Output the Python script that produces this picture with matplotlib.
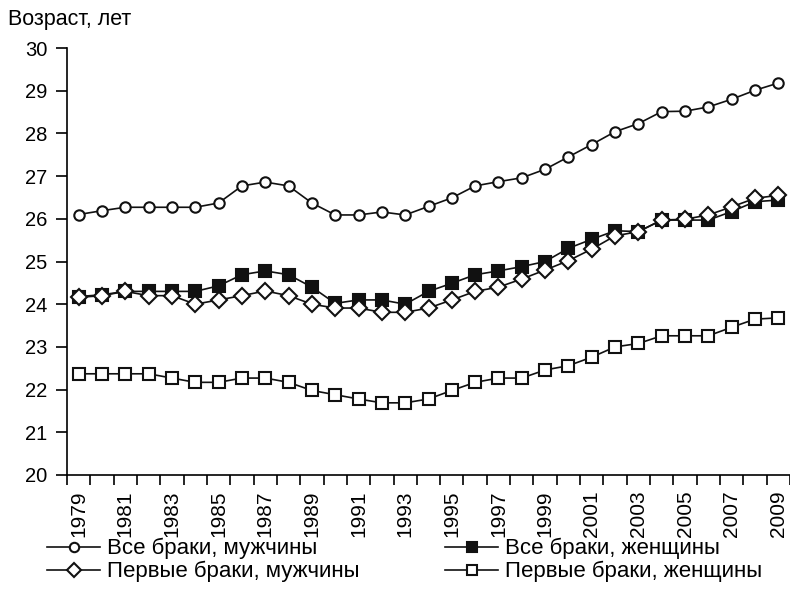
import matplotlib
matplotlib.use("Agg")
import matplotlib.pyplot as plt
from matplotlib import font_manager
import numpy as np

years = list(range(1979, 2010))
all_men = [26.10, 26.19, 26.27, 26.27, 26.27, 26.27, 26.37, 26.77, 26.86, 26.77,
           26.37, 26.09, 26.09, 26.16, 26.09, 26.29, 26.49, 26.77, 26.87, 26.96,
           27.16, 27.45, 27.74, 28.04, 28.23, 28.51, 28.52, 28.62, 28.80, 29.01, 29.18]
all_women = [24.18, 24.22, 24.30, 24.30, 24.30, 24.30, 24.43, 24.69, 24.78, 24.69,
             24.40, 24.02, 24.10, 24.10, 24.00, 24.30, 24.49, 24.69, 24.78, 24.88,
             25.00, 25.31, 25.52, 25.72, 25.70, 25.97, 25.97, 25.97, 26.17, 26.40, 26.44]
first_men = [24.16, 24.20, 24.30, 24.20, 24.20, 24.00, 24.10, 24.20, 24.31, 24.20,
             24.00, 23.91, 23.91, 23.81, 23.81, 23.91, 24.10, 24.30, 24.40, 24.59,
             24.80, 25.02, 25.29, 25.60, 25.70, 25.97, 25.99, 26.09, 26.28, 26.48, 26.55]
first_women = [22.37, 22.37, 22.37, 22.37, 22.27, 22.17, 22.17, 22.27, 22.27, 22.17,
               21.98, 21.88, 21.78, 21.69, 21.69, 21.78, 21.98, 22.17, 22.27, 22.27,
               22.46, 22.56, 22.76, 23.00, 23.08, 23.26, 23.26, 23.26, 23.46, 23.65, 23.68]
labels = ["Все браки, мужчины", "Все браки, женщины",
          "Первые браки, мужчины", "Первые браки, женщины"]
ylabel = "Возраст, лет"

names = {f.name for f in font_manager.fontManager.ttflist}
fam = "Liberation Sans" if "Liberation Sans" in names else "DejaVu Sans"
plt.rcParams['font.family'] = [fam, 'DejaVu Sans']

fig = plt.figure(figsize=(7.90, 6.13), dpi=100)
ax = fig.add_axes([67/790, 1-475/613, 1-67/790, (475-48)/613])
x = np.arange(len(years))
lw = 1.2
mew = 1.5
h1, = ax.plot(x, all_men, color='#111111', lw=lw, marker='o', ms=7.5,
              mfc='white', mec='#111111', mew=mew, label=labels[0], zorder=3)
h2, = ax.plot(x, all_women, color='#111111', lw=lw, marker='s', ms=8,
              mfc='#111111', mec='#111111', mew=mew, label=labels[1], zorder=4)
h3, = ax.plot(x, first_men, color='#111111', lw=lw, marker='D', ms=8,
              mfc='white', mec='#111111', mew=mew, label=labels[2], zorder=5)
h4, = ax.plot(x, first_women, color='#111111', lw=lw, marker='s', ms=8,
              mfc='white', mec='#111111', mew=mew, label=labels[3], zorder=3)

ax.set_xlim(-0.5, len(years) - 0.5)
ax.set_ylim(20, 30)
ax.set_yticks(range(20, 31))
ax.tick_params(axis='y', direction='out', length=8, width=1.2, labelsize=14.5, pad=6)
ax.set_xticks(x[::2])
ax.set_xticklabels([str(y) for y in years[::2]], rotation=90, fontsize=15)
ax.tick_params(axis='x', which='major', length=0, pad=11)
ax.set_xticks(np.arange(-0.5, len(years)), minor=True)
ax.tick_params(axis='x', which='minor', direction='out', length=7, width=1.2)
for s in ['top', 'right']:
    ax.spines[s].set_visible(False)
for s in ['left', 'bottom']:
    ax.spines[s].set_linewidth(1.2)

fig.text(8/790, 1-20/613, ylabel, fontsize=15.5, va='center', ha='left')

legkw = dict(loc='upper left', frameon=False, prop={'size': 16},
             handlelength=2.4, handletextpad=0.3, labelspacing=0.08,
             borderaxespad=0, borderpad=0, markerscale=0.9)
leg1 = fig.legend([h1, h3], [labels[0], labels[2]],
                  bbox_to_anchor=(47/790, 1-538/613), **legkw)
leg2 = fig.legend([h2, h4], [labels[1], labels[3]],
                  bbox_to_anchor=(445/790, 1-538/613), **legkw)

fig.savefig("out.png", dpi=100)
